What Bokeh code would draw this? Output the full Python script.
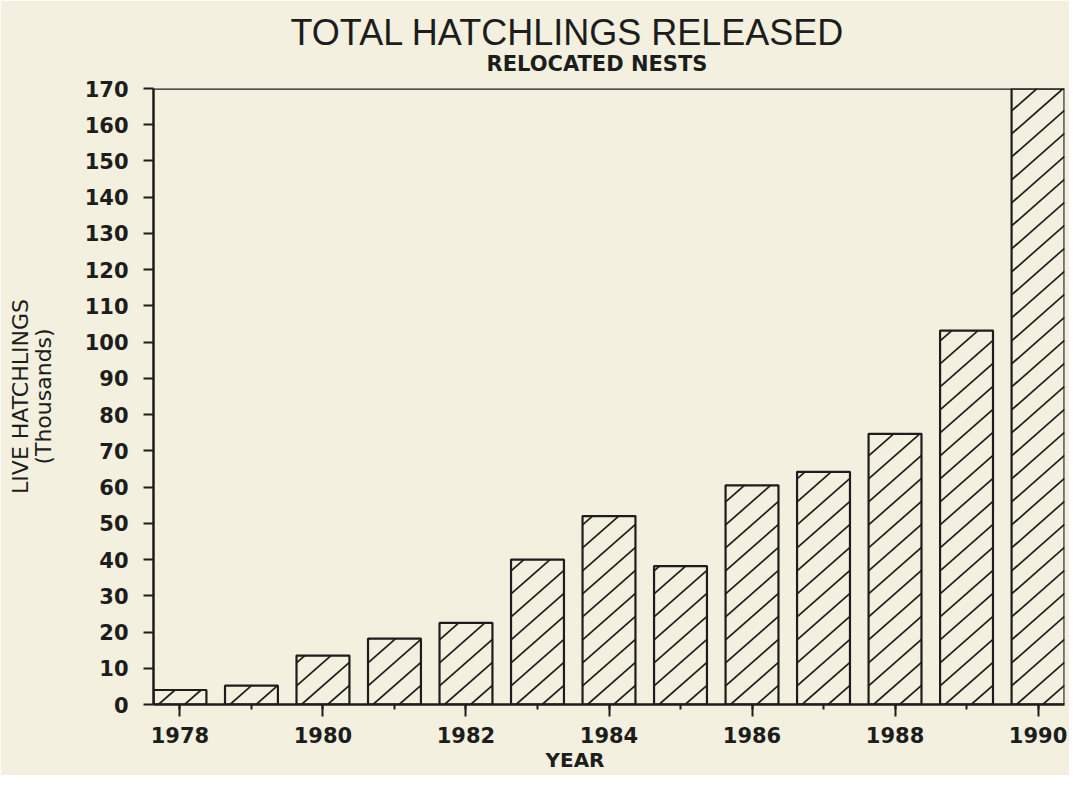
import math
from bokeh.plotting import figure
from bokeh.models import Range1d, FixedTicker, Span, Title
from bokeh.embed import file_html
from bokeh.resources import INLINE

# ---- data ----
years = [1978, 1979, 1980, 1981, 1982, 1983, 1984, 1985, 1986, 1987, 1988, 1989, 1990]
hatchlings = [4, 5.2, 13.5, 18.2, 22.5, 40, 52, 38.2, 60.5, 64.2, 74.7, 103.2, 171]
year_ticks = [1978, 1980, 1982, 1984, 1986, 1988, 1990]
value_ticks = list(range(0, 171, 10))

title_text = "TOTAL HATCHLINGS RELEASED"
subtitle_text = "RELOCATED NESTS"
x_label_text = "YEAR"
y_label_text = "LIVE HATCHLINGS\n(Thousands)"

# ---- style ----
BG = "#f3f0e0"
INK = "#1d1d1b"
BAR_WIDTH = 0.74
HATCH_SLOPE = 0.88   # rise per run, in screen pixels
HATCH_STEP = 23      # vertical pixel distance between hatch lines
HATCH_START = 5      # first line starts this many px right of a bar's corner

W, H = 1069, 775
FL, FR, FT, FB = 153, 1064, 88, 704
X0, X1 = years[0] - BAR_WIDTH / 2, years[-1] + BAR_WIDTH / 2
Y0, Y1 = 0, 170
PPX = (FR - FL) / (X1 - X0)
PPY = (FB - FT) / (Y1 - Y0)


def hatch_segments(xs, tops, width):
    """Diagonal hatch lines clipped to each bar, computed in screen-like units
    and returned in data units."""
    sx0, sy0, sx1, sy1 = [], [], [], []
    m, step = HATCH_SLOPE, HATCH_STEP
    for xc, top in zip(xs, tops):
        xl = (xc - width / 2 - X0) * PPX
        xr = (xc + width / 2 - X0) * PPX
        ub = 0.0
        ut = (min(top, Y1) - Y0) * PPY
        base = -m * (xl + HATCH_START)
        kmin = math.ceil((ub - m * xr - base) / step)
        kmax = math.floor((ut - m * xl - base) / step)
        for k in range(kmin, kmax + 1):
            c = base + k * step
            xa = max(xl, (ub - c) / m)
            xb = min(xr, (ut - c) / m)
            if xb - xa > 0.5:
                sx0.append(X0 + xa / PPX)
                sy0.append(Y0 + (m * xa + c) / PPY)
                sx1.append(X0 + xb / PPX)
                sy1.append(Y0 + (m * xb + c) / PPY)
    return sx0, sy0, sx1, sy1


p = figure(
    width=W, height=H,
    x_range=Range1d(X0, X1), y_range=Range1d(Y0, Y1),
    output_backend="svg", toolbar_location=None, title=None,
    min_border_left=FL, min_border_right=W - FR,
    min_border_top=FT, min_border_bottom=H - FB,
    background_fill_color=BG, border_fill_color=BG,
    outline_line_color=None,
)
p.grid.visible = False

p.vbar(x=years, top=hatchlings, width=BAR_WIDTH, bottom=0,
       fill_color=BG, line_color=None)
hx0, hy0, hx1, hy1 = hatch_segments(years, hatchlings, BAR_WIDTH)
p.segment(x0=hx0, y0=hy0, x1=hx1, y1=hy1, line_color=INK, line_width=1.7)
p.vbar(x=years, top=hatchlings, width=BAR_WIDTH, bottom=0,
       fill_color=None, line_color=INK, line_width=2.2)

p.add_layout(Span(location=170, dimension="width", line_color=INK, line_width=2.5))

# axes
xa_ = p.xaxis[0]
xa_.ticker = FixedTicker(ticks=year_ticks, minor_ticks=years)
xa_.axis_line_color = INK
xa_.axis_line_width = 2.5
xa_.major_tick_line_color = INK
xa_.major_tick_line_width = 2
xa_.major_tick_out = 12
xa_.major_tick_in = 0
xa_.minor_tick_line_color = INK
xa_.minor_tick_line_width = 2
xa_.minor_tick_out = 5
xa_.minor_tick_in = 0
xa_.major_label_standoff = 10
xa_.major_label_text_font = "DejaVu Sans"
xa_.major_label_text_font_style = "bold"
xa_.major_label_text_font_size = "21px"
xa_.major_label_text_color = INK

ya_ = p.yaxis[0]
ya_.ticker = FixedTicker(ticks=value_ticks, minor_ticks=[])
ya_.axis_line_color = INK
ya_.axis_line_width = 2.5
ya_.major_tick_line_color = INK
ya_.major_tick_line_width = 2
ya_.major_tick_out = 10
ya_.major_tick_in = 0
ya_.minor_tick_line_color = None
ya_.major_label_standoff = 15
ya_.major_label_text_font = "DejaVu Sans"
ya_.major_label_text_font_style = "bold"
ya_.major_label_text_font_size = "21px"
ya_.major_label_text_color = INK
ya_.axis_label = y_label_text
ya_.axis_label_standoff = 26
ya_.axis_label_text_font = "DejaVu Sans"
ya_.axis_label_text_font_style = "normal"
ya_.axis_label_text_font_size = "22px"
ya_.axis_label_text_color = INK
ya_.axis_label_text_line_height = 0.92

# titles (above: first added is nearest the frame)
p.add_layout(Title(text=subtitle_text, align="left", offset=486 - FL, standoff=26,
                   text_font="DejaVu Sans", text_font_style="bold",
                   text_font_size="21px", text_color=INK), "above")
p.add_layout(Title(text=title_text, align="left", offset=290 - FL, standoff=-33,
                   text_font="Liberation Sans", text_font_style="normal",
                   text_font_size="36px", text_color=INK), "above")
p.add_layout(Title(text=x_label_text, align="left", offset=545 - FL, standoff=0,
                   text_font="DejaVu Sans", text_font_style="bold",
                   text_font_size="20px", text_color=INK), "below")

open("out.html", "w").write(file_html(p, INLINE))
